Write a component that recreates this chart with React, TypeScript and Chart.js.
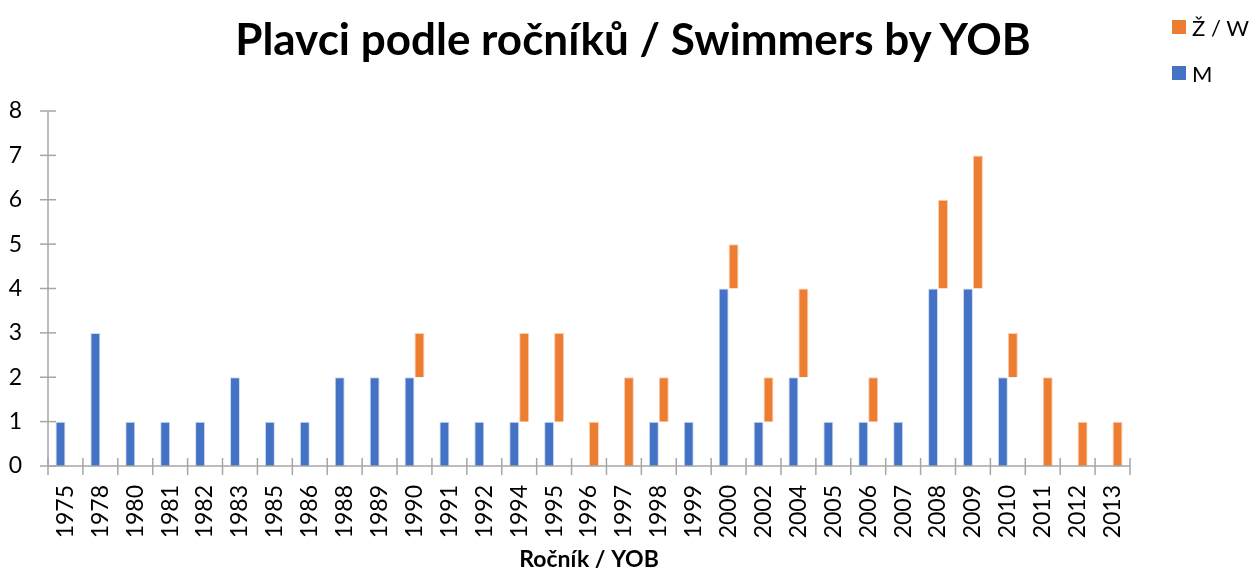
import React, { useEffect, useRef } from "react";
import { Chart, registerables } from "chart.js";

Chart.register(...registerables);

const years = ["1975","1978","1980","1981","1982","1983","1985","1986","1988","1989","1990","1991","1992","1994","1995","1996","1997","1998","1999","2000","2002","2004","2005","2006","2007","2008","2009","2010","2011","2012","2013"];
const men =   [1,3,1,1,1,2,1,1,2,2,2,1,1,1,1,0,0,1,1,4,1,2,1,1,1,4,4,2,0,0,0];
const women = [0,0,0,0,0,0,0,0,0,0,1,0,0,2,2,1,2,1,0,1,1,2,0,1,0,2,3,1,2,1,1];
const yTicks = [0,1,2,3,4,5,6,7,8];

const BLUE = "#4472C4";
const ORANGE = "#ED7D31";
const AXIS = "#a6a6a6";
const FONT = "Lato, 'Open Sans', sans-serif";

const axisPlugin = {
  id: "excelAxes",
  afterDatasetsDraw(chart: any) {
    const { ctx, chartArea, scales } = chart;
    const y = scales.y;
    ctx.save();
    ctx.strokeStyle = AXIS;
    ctx.lineWidth = 1.5;
    const y0 = y.getPixelForValue(0);
    ctx.beginPath();
    ctx.moveTo(chartArea.left, y.getPixelForValue(yTicks[yTicks.length - 1]));
    ctx.lineTo(chartArea.left, y0);
    ctx.stroke();
    yTicks.forEach((t) => {
      const py = y.getPixelForValue(t);
      ctx.beginPath();
      ctx.moveTo(chartArea.left - 8, py);
      ctx.lineTo(chartArea.left + 8, py);
      ctx.stroke();
    });
    ctx.beginPath();
    ctx.moveTo(chartArea.left, y0);
    ctx.lineTo(chartArea.right, y0);
    ctx.stroke();
    const n = years.length;
    const w = (chartArea.right - chartArea.left) / n;
    for (let i = 0; i <= n; i++) {
      const px = chartArea.left + i * w;
      ctx.beginPath();
      ctx.moveTo(px, y0 - 8);
      ctx.lineTo(px, y0 + 9);
      ctx.stroke();
    }
    ctx.restore();
  },
};

export default function App() {
  const ref = useRef<HTMLCanvasElement | null>(null);
  useEffect(() => {
    if (!ref.current) return;
    const chart = new Chart(ref.current, {
      type: "bar",
      data: {
        labels: years,
        datasets: [
          {
            label: "M",
            data: men.map((m) => (m > 0 ? m : null)),
            backgroundColor: BLUE,
            borderColor: "rgba(200,215,240,0.9)",
            borderWidth: 1,
            categoryPercentage: 0.57,
            barPercentage: 1,
          },
          {
            label: "Ž / W",
            data: women.map((w, i) => (w > 0 ? [men[i], men[i] + w] : null)) as any,
            backgroundColor: ORANGE,
            borderColor: "rgba(250,200,170,0.9)",
            borderWidth: 1,
            categoryPercentage: 0.57,
            barPercentage: 1,
          },
        ],
      },
      options: {
        animation: false,
        responsive: false,
        layout: { padding: { top: 111, right: 124, left: 0, bottom: 0 } },
        plugins: {
          legend: { display: false },
          title: { display: false },
          tooltip: { enabled: false },
        },
        scales: {
          x: {
            grid: { display: false },
            border: { display: false },
            ticks: {
              color: "#000",
              font: { family: FONT, size: 23 },
              minRotation: 90,
              maxRotation: 90,
              padding: 11,
              autoSkip: false,
            },
            title: {
              display: true,
              text: "Ročník / YOB",
              color: "#000",
              font: { family: FONT, size: 23, weight: "bold" },
              padding: { top: 0, bottom: 0 },
            },
            afterFit: (s: any) => {
              s.height = 107;
            },
          },
          y: {
            min: 0,
            max: 8,
            grid: { display: false },
            border: { display: false },
            ticks: {
              stepSize: 1,
              color: "#000",
              font: { family: FONT, size: 23 },
              padding: 18,
            },
            afterFit: (s: any) => {
              s.width = 48;
            },
          },
        },
      },
      plugins: [axisPlugin],
    });
    return () => chart.destroy();
  }, []);

  return (
    <div style={{ position: "absolute", left: 0, top: 0, width: 1254, height: 573, background: "#fff" }}>
      <canvas ref={ref} width={1254} height={573} style={{ display: "block", width: 1254, height: 573 }} />
      <div
        style={{
          position: "absolute",
          left: 0,
          width: 1266,
          top: 8,
          textAlign: "center",
          fontFamily: FONT,
          fontWeight: 700,
          fontSize: 44,
          lineHeight: "60px",
          color: "#000",
        }}
      >
        Plavci podle ročníků / Swimmers by YOB
      </div>
      <div style={{ position: "absolute", left: 1172, top: 10, fontFamily: FONT, fontSize: 22, color: "#000" }}>
        <div style={{ display: "flex", alignItems: "center", height: 34 }}>
          <span style={{ display: "inline-block", width: 14, height: 14, background: ORANGE, marginRight: 6 }} />
          <span>Ž / W</span>
        </div>
        <div style={{ display: "flex", alignItems: "center", height: 34, marginTop: 12 }}>
          <span style={{ display: "inline-block", width: 14, height: 14, background: BLUE, marginRight: 6 }} />
          <span>M</span>
        </div>
      </div>
    </div>
  );
}
